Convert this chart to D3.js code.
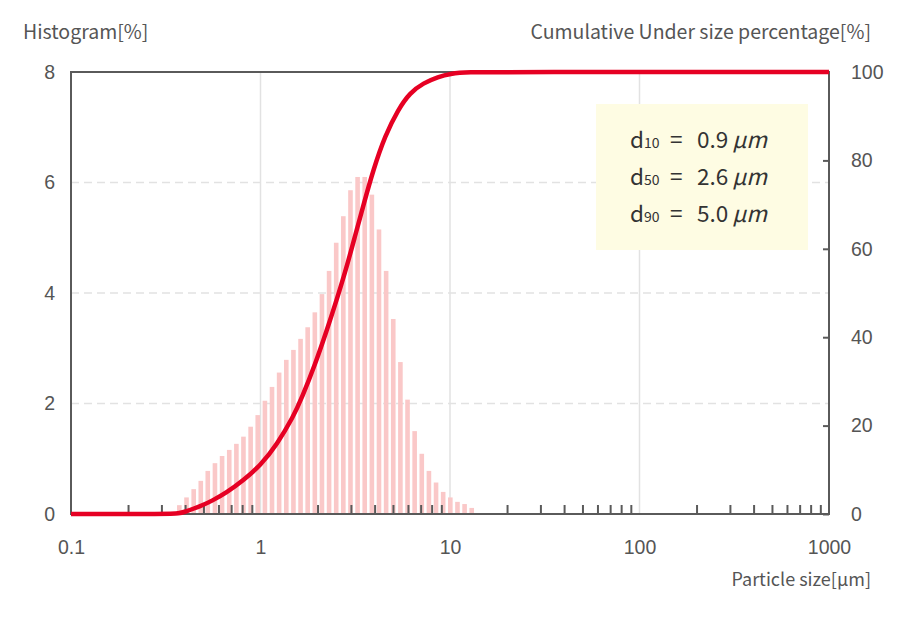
<!DOCTYPE html>
<html>
<head>
<meta charset="utf-8">
<script src="https://cdn.jsdelivr.net/npm/d3@7"></script>
<style>
  html, body { margin: 0; padding: 0; background: #fff; }
  svg { display: block; font-family: "Noto Sans CJK JP", "Noto Sans", sans-serif; }
</style>
</head>
<body>
<svg id="chart" width="900" height="622"></svg>
<script>
// ---- Data ----
const binSizes = [0.373, 0.407, 0.444, 0.484, 0.527, 0.575, 0.627, 0.684, 0.746, 0.813,
  0.887, 0.967, 1.055, 1.150, 1.254, 1.368, 1.492, 1.627, 1.774, 1.935,
  2.110, 2.301, 2.509, 2.736, 2.984, 3.254, 3.548, 3.870, 4.220, 4.602,
  5.018, 5.473, 5.968, 6.508, 7.097, 7.740, 8.440, 9.204, 10.04, 10.95,
  11.94, 13.02];
const histValues = [0.16, 0.30, 0.45, 0.60, 0.78, 0.92, 1.05, 1.16, 1.27, 1.40,
  1.58, 1.79, 2.05, 2.30, 2.56, 2.79, 2.97, 3.17, 3.38, 3.65,
  3.98, 4.40, 4.91, 5.39, 5.86, 6.10, 6.10, 5.78, 5.15, 4.40,
  3.53, 2.75, 2.07, 1.50, 1.09, 0.78, 0.57, 0.40, 0.30, 0.22,
  0.18, 0.11];
const cumSizes = [0.1, 0.33, 0.37, 0.40, 0.45, 0.50, 0.55, 0.66, 0.81, 1.0, 1.22,
  1.49, 1.65, 1.94, 2.24, 2.5, 2.83, 3.15, 3.52, 3.94, 4.54,
  5.34, 6.15, 7.23, 8.68, 10.0, 12.3, 20, 1000];
const cumValues = [0, 0, 0.1, 0.5, 1.3, 2.1, 2.9, 4.8, 7.6, 11.0, 15.7,
  22.0, 26.2, 33.8, 41.6, 47.9, 55.4, 62.8, 70.4, 77.9, 85.6,
  91.6, 95.3, 97.5, 98.9, 99.6, 100, 100, 100];
const xMajorTicks = [0.1, 1, 10, 100, 1000];
const xTickLabels = ["0.1", "1", "10", "100", "1000"];
const yLeftTicks = [0, 2, 4, 6, 8];
const yRightTicks = [0, 20, 40, 60, 80, 100];
const legendNames = ["10", "50", "90"];
const legendValues = ["0.9", "2.6", "5.0"];

// ---- Layout ----
const W = 900, H = 622;
const m = { left: 71, right: 71, top: 72, bottom: 108 };
const svg = d3.select("#chart");

const x = d3.scaleLog().domain([0.1, 1000]).range([m.left, W - m.right]);
const yL = d3.scaleLinear().domain([0, 8]).range([H - m.bottom, m.top]);
const yR = d3.scaleLinear().domain([0, 100]).range([H - m.bottom, m.top]);

const axisColor = "#5a5a5a";
const textColor = "#555";

// Vertical gridlines at decades
const grid = svg.append("g");
grid.selectAll("line.v").data([1, 10, 100]).join("line")
  .attr("x1", d => x(d)).attr("x2", d => x(d))
  .attr("y1", m.top).attr("y2", H - m.bottom)
  .attr("stroke", "#e2e2e2").attr("stroke-width", 1.5);
// Horizontal dashed gridlines
grid.selectAll("line.h").data([2, 4, 6]).join("line")
  .attr("x1", m.left).attr("x2", W - m.right)
  .attr("y1", d => yL(d)).attr("y2", d => yL(d))
  .attr("stroke", "#e2e2e2").attr("stroke-width", 1.5)
  .attr("stroke-dasharray", "8,5");

// Legend box
const lg = svg.append("g");
lg.append("rect").attr("x", 596).attr("y", 104).attr("width", 212).attr("height", 146)
  .attr("fill", "#fefce3");
legendNames.forEach((n, i) => {
  const ty = 148 + i * 37;
  const t = lg.append("text").attr("x", 630).attr("y", ty)
    .attr("font-size", 22.5).attr("fill", "#333");
  t.append("tspan").text("d");
  t.append("tspan").attr("font-size", 14).text(n);
  lg.append("text").attr("x", 670).attr("y", ty).attr("font-size", 22.5).attr("fill", "#333").text("=");
  const v = lg.append("text").attr("x", 697).attr("y", ty).attr("font-size", 22.5).attr("fill", "#333");
  v.append("tspan").text(legendValues[i]);
  v.append("tspan").attr("dx", 4).attr("font-style", "italic").text("μm");
});

// Histogram bars
const barW = 4.6;
svg.append("g").selectAll("rect").data(binSizes).join("rect")
  .attr("x", d => x(d) - barW / 2)
  .attr("width", barW)
  .attr("y", (d, i) => yL(histValues[i]))
  .attr("height", (d, i) => yL(0) - yL(histValues[i]))
  .attr("fill", "#fac8c8");

// Frame
const frame = svg.append("g").attr("stroke", axisColor).attr("stroke-width", 2).attr("fill", "none");
frame.append("rect").attr("x", m.left).attr("y", m.top)
  .attr("width", W - m.left - m.right).attr("height", H - m.top - m.bottom);

// Minor x ticks (inward, upward)
const minor = [];
[0.1, 1, 10, 100].forEach(dec => { for (let k = 2; k <= 9; k++) minor.push(dec * k); });
const xAxisMinor = d3.axisBottom(x).tickValues(minor).tickSize(-9).tickFormat("");
const gxm = svg.append("g").attr("transform", `translate(0,${H - m.bottom})`).call(xAxisMinor);
gxm.select(".domain").remove();
gxm.selectAll("line").attr("stroke", axisColor).attr("stroke-width", 2);

// Major x tick labels
const xAxis = d3.axisBottom(x).tickValues(xMajorTicks).tickSize(0).tickPadding(26)
  .tickFormat((d, i) => xTickLabels[i]);
const gx = svg.append("g").attr("transform", `translate(0,${H - m.bottom})`).call(xAxis);
gx.select(".domain").remove();
gx.selectAll("text").attr("font-size", 19.5).attr("fill", textColor).attr("font-family", null);

// Left axis labels
const yAxisL = d3.axisLeft(yL).tickValues(yLeftTicks).tickSize(0).tickPadding(16).tickFormat(d3.format("d"));
const gyl = svg.append("g").attr("transform", `translate(${m.left},0)`).call(yAxisL);
gyl.select(".domain").remove();
gyl.selectAll("text").attr("font-size", 19.5).attr("fill", textColor).attr("font-family", null);

// Right axis with inward ticks
const yAxisR = d3.axisRight(yR).tickValues(yRightTicks).tickSize(-6).tickPadding(22).tickFormat(d3.format("d"));
const gyr = svg.append("g").attr("transform", `translate(${W - m.right},0)`).call(yAxisR);
gyr.select(".domain").remove();
gyr.selectAll("line").attr("stroke", axisColor).attr("stroke-width", 2);
gyr.selectAll("text").attr("font-size", 19.5).attr("fill", textColor).attr("font-family", null);

// Cumulative curve
const line = d3.line()
  .x((d, i) => x(cumSizes[i]))
  .y((d, i) => yR(cumValues[i]))
  .curve(d3.curveBasis);
svg.append("path").datum(cumValues)
  .attr("d", line)
  .attr("fill", "none").attr("stroke", "#e60023").attr("stroke-width", 4.5)
  .attr("stroke-linejoin", "round");

// Titles
svg.append("text").attr("x", 23).attr("y", 39).attr("font-size", 19.5).attr("fill", textColor)
  .text("Histogram[%]");
svg.append("text").attr("x", 871).attr("y", 39).attr("font-size", 19.5).attr("fill", textColor)
  .attr("text-anchor", "end").text("Cumulative Under size percentage[%]");
svg.append("text").attr("x", 871).attr("y", 586).attr("font-size", 18).attr("fill", textColor)
  .attr("text-anchor", "end").text("Particle size[μm]");
</script>
</body>
</html>
